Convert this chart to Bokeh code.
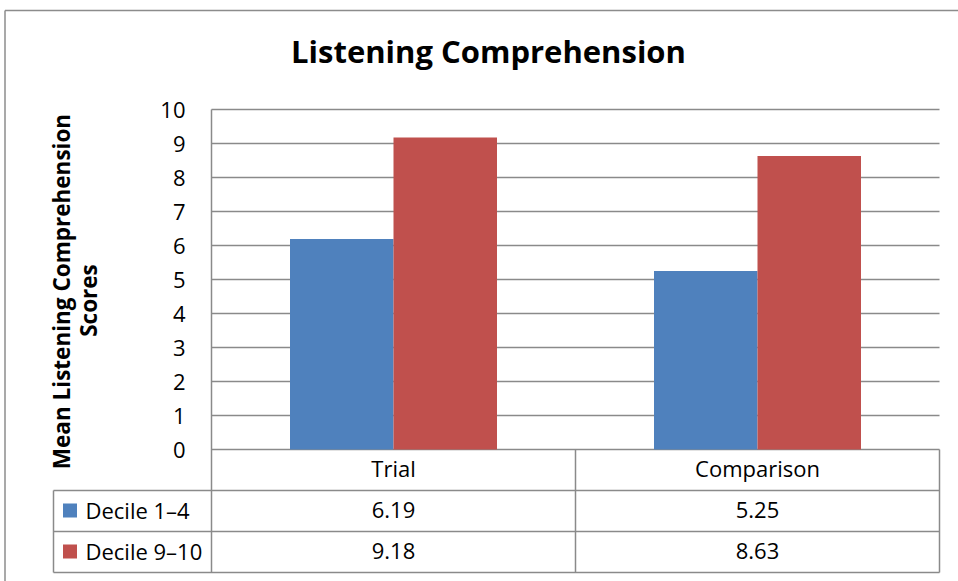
import numpy as np
from bokeh.plotting import figure
from bokeh.models import Range1d, LinearAxis, FixedTicker
from bokeh.core.properties import value
from bokeh.embed import file_html
from bokeh.resources import INLINE

# ---------------- data ----------------
title_text = "Listening Comprehension"
y_label_lines = ["Mean Listening Comprehension", "Scores"]
categories = ["Trial", "Comparison"]
series_names = ["Decile 1–4", "Decile 9–10"]
decile_1_4 = [6.19, 5.25]
decile_9_10 = [9.18, 8.63]
y_ticks = [0, 1, 2, 3, 4, 5, 6, 7, 8, 9, 10]
series_colors = ["#4F81BD", "#C0504D"]

# ---------------- layout helpers (page pixels -> data units) ----------------
PA_LEFT, PA_RIGHT, PA_ZERO = 211.0, 939.0, 449.0
N = len(categories)
KX = (PA_RIGHT - PA_LEFT) / N        # px per category
KY = (PA_ZERO - 109.0) / 10.0        # px per y unit
PAGE_X0, PAGE_Y0 = 0, 0
W, H = 958, 581


def px_x(ix):
    return (ix - PA_LEFT) / KX


def px_y(iy):
    return (PA_ZERO - iy) / KY


GRID_COLOR = "#8A8A8A"
FONT = value("Open Sans")

p = figure(width=W, height=H,
           x_range=Range1d(px_x(PAGE_X0), px_x(PAGE_X0 + W)),
           y_range=Range1d(px_y(PAGE_Y0 + H), px_y(PAGE_Y0)),
           x_axis_type=None, y_axis_type=None,
           toolbar_location=None, output_backend="svg",
           min_border=0, min_border_left=0, min_border_right=0,
           min_border_top=0, min_border_bottom=0)
p.outline_line_color = None
p.background_fill_color = "white"
p.border_fill_color = "white"

# outer chart border (top and left)
p.segment(x0=[px_x(4.5), px_x(4.5)], y0=[px_y(10), px_y(10)],
          x1=[px_x(958), px_x(4.5)], y1=[px_y(10), px_y(581)],
          line_color="#8C8C8C", line_width=1.5)

# horizontal gridlines from the ticks
p.segment(x0=[0] * len(y_ticks), x1=[N] * len(y_ticks), y0=y_ticks, y1=y_ticks,
          line_color=GRID_COLOR, line_width=1.5)

# y axis (tick labels only)
yaxis = LinearAxis(ticker=FixedTicker(ticks=y_ticks), fixed_location=0,
                   axis_line_color=None, major_tick_line_color=None,
                   minor_tick_line_color=None, major_tick_out=0, major_tick_in=0,
                   major_label_standoff=26,
                   major_label_text_font="Open Sans",
                   major_label_text_font_size="22px",
                   major_label_text_color="black")
p.add_layout(yaxis, "left")

# bars
centers = np.arange(N) + 0.5
bar_w = 103.5 / KX
p.vbar(x=centers - bar_w / 2, top=decile_1_4, width=bar_w, bottom=0,
       fill_color=series_colors[0], line_color=None)
p.vbar(x=centers + bar_w / 2, top=decile_9_10, width=bar_w, bottom=0,
       fill_color=series_colors[1], line_color=None)

# data table grid
row_h = (572.0 - PA_ZERO) / 3 / KY
rows_y = [-row_h, -2 * row_h, -3 * row_h]
p.segment(x0=[px_x(53)] * 3, x1=[N] * 3, y0=rows_y, y1=rows_y,
          line_color=GRID_COLOR, line_width=1.5)
vx = [px_x(53), 0] + list(range(1, N + 1))
vy0 = [-row_h, 10] + [0] * N
vy1 = [-3 * row_h] * (2 + N)
p.segment(x0=vx, x1=vx, y0=vy0, y1=vy1, line_color=GRID_COLOR, line_width=1.5)

# table header (categories)
p.text(x=centers, y=[px_y(467)] * N, text=categories, text_font=FONT,
       text_font_size=value("22px"), text_align="center",
       text_baseline="alphabetic", text_color="black")

# table rows: legend keys, names, values
row_base = [px_y(509), px_y(550)]
p.scatter(x=[px_x(69.5)] * 2, y=[px_y(510), px_y(551)], marker="square", size=14,
          fill_color=series_colors, line_color=None)
p.text(x=[px_x(85)] * 2, y=row_base, text=series_names, text_font=FONT,
       text_font_size=value("22px"), text_align="left",
       text_baseline="alphabetic", text_color="black")
for vals, yb in zip([decile_1_4, decile_9_10], row_base):
    p.text(x=centers, y=[yb] * N, text=[f"{v:.2f}" for v in vals], text_font=FONT,
           text_font_size=value("22px"), text_align="center",
           text_baseline="alphabetic", text_color="black")

# title
p.text(x=[px_x(488)], y=[px_y(50)], text=[title_text], text_font=FONT,
       text_font_style="bold", text_font_size=value("31px"), text_align="center",
       text_baseline="alphabetic", text_color="black")

# y-axis title (two rotated lines)
p.text(x=[px_x(61), px_x(88)], y=[px_y(291), px_y(300)], text=y_label_lines,
       angle=np.pi / 2, text_font=FONT, text_font_style="bold",
       text_font_size=value("22.5px"), text_align="center",
       text_baseline="alphabetic", text_color="black")

open("out.html", "w").write(file_html(p, INLINE))
